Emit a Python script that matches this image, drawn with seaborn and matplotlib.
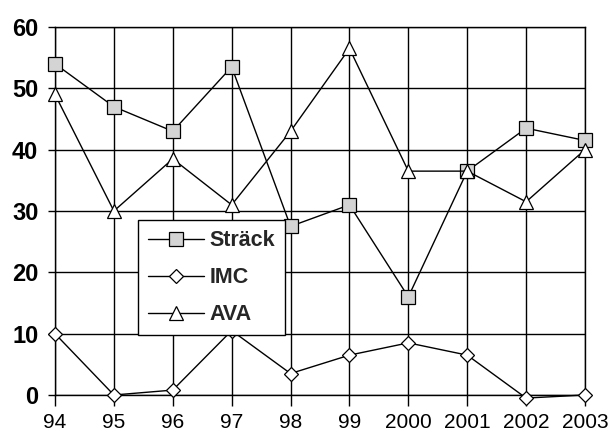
import matplotlib
matplotlib.use("Agg")
import matplotlib.pyplot as plt
import seaborn as sns
import pandas as pd

years = ["94", "95", "96", "97", "98", "99", "2000", "2001", "2002", "2003"]
strack = [54, 47, 43, 53.5, 27.5, 31, 16, 36.5, 43.5, 41.5]
imc = [10, 0, 0.8, 10.5, 3.5, 6.5, 8.5, 6.5, -0.5, 0]
ava = [49, 30, 38.5, 31, 43, 56.5, 36.5, 36.5, 31.5, 40]
series_names = ["Sträck", "IMC", "AVA"]

sns.set_theme(style="white")
plt.rcParams["font.family"] = ["Liberation Sans", "DejaVu Sans"]

df = pd.DataFrame({"year": years, "Sträck": strack, "IMC": imc, "AVA": ava})
df["pos"] = range(len(years))

fig = plt.figure(figsize=(6.1, 4.37), dpi=100)
ax = fig.add_axes([55 / 610, 1 - 395 / 437, (585 - 55) / 610, (395 - 27) / 437])

styles = {
    "Sträck": dict(marker="s", markerfacecolor="#d4d4d4", markersize=9.5),
    "IMC": dict(marker="D", markerfacecolor="white", markersize=7.5),
    "AVA": dict(marker="^", markerfacecolor="white", markersize=10.5),
}
for name in series_names:
    sns.lineplot(data=df, x="pos", y=name, ax=ax, color="black", linewidth=1,
                 markeredgecolor="black", markeredgewidth=0.9, label=name,
                 clip_on=False, zorder=3, **styles[name])

ax.set_xlim(0, len(years) - 1)
ax.set_ylim(0, 60)
ax.set_xticks(range(len(years)))
ax.set_xticklabels(years, fontsize=15)
ax.set_yticks(range(0, 61, 10))
ax.set_yticklabels([str(v) for v in range(0, 61, 10)], fontsize=17, fontweight="bold")
ax.set_xlabel("")
ax.set_ylabel("")
ax.grid(True, color="black", linewidth=1)
for s in ax.spines.values():
    s.set_color("black")
    s.set_linewidth(1)
ax.tick_params(axis="both", which="both", direction="out", width=1,
               color="black", labelcolor="black", left=True, bottom=True)
ax.tick_params(axis="x", length=8, pad=5)
ax.tick_params(axis="y", length=5, pad=7)

leg = ax.legend(loc="lower left", bbox_to_anchor=(0.157, 0.163), borderaxespad=0,
                frameon=True, fancybox=False, shadow=False, handlelength=2.6,
                borderpad=0.45, labelspacing=0.75, handletextpad=0.25,
                prop={"size": 15.5, "weight": "bold"})
leg.get_frame().set_edgecolor("black")
leg.get_frame().set_linewidth(1)
leg.get_frame().set_alpha(1)
leg.set_zorder(5)

fig.savefig("out.png", dpi=100)
